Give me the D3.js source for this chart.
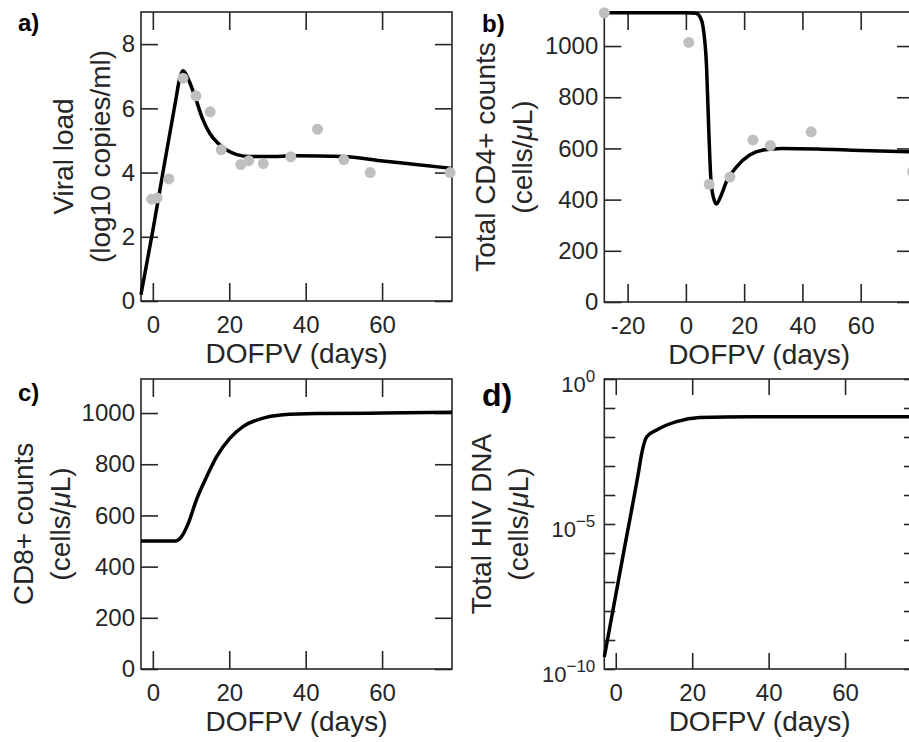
<!DOCTYPE html>
<html lang="en">

<head>
  <meta charset="UTF-8">
  <title>Acute HIV model fit</title>
  <style>
    body {
      margin: 0;
      background: #fff;
    }

    svg text {
      font-family: "Liberation Sans", Arial, sans-serif;
      fill: #262626;
    }
  </style>
</head>

<body>
  <div id="container"></div>
  <script src="https://cdn.jsdelivr.net/npm/d3@7"></script>
  <script>
    // a) viral load, log10 copies/ml
    const vlObsDays = [-0.3, 1.1, 4.2, 7.9, 11.3, 15.0, 17.9, 23.0, 25.1, 28.9, 36.1, 43.1, 50.0, 56.9, 77.8];
    const vlObs = [3.17, 3.21, 3.80, 6.94, 6.39, 5.89, 4.71, 4.25, 4.37, 4.28, 4.49, 5.35, 4.40, 4.00, 4.00];
    const vlDays = [-3.1, 0, 3, 6, 7, 7.9, 8.6, 9.5, 11, 13, 15, 17, 19.3, 22, 25.4, 30, 37.6, 49.9, 59.5, 68.2, 78.3];
    const vlModel = [0.2, 2.2, 4.25, 6.26, 6.92, 7.17, 7.08, 6.85, 6.38, 5.68, 5.2, 4.92, 4.7, 4.56, 4.5, 4.5, 4.52, 4.5, 4.37, 4.26, 4.13];

    // b) total CD4+ counts
    const cd4ObsDays = [-28, 1, 8, 15.1, 23, 29, 43, 77.8];
    const cd4Obs = [1130, 1014, 460, 488, 633, 611, 665, 509];
    const cd4Days = [-28, 0, 3.5, 4.8, 5.9, 7.1, 7.9, 8.6, 9.4, 10.5, 11.9, 13.9, 17.4, 21.9, 26.5, 33, 45, 60, 78.3];
    const cd4Model = [1130, 1130, 1128, 1115, 1075, 919, 659, 476, 411, 383, 411, 470, 528, 574, 594, 600, 598, 592, 587];

    // c) CD8+ counts
    const cd8Days = [-3.1, 5.5, 6.5, 7.5, 9.3, 11.4, 14.1, 16.7, 20.2, 23.7, 28, 34.1, 42.9, 60, 78.3];
    const cd8Model = [500, 500, 503, 517, 570, 661, 752, 830, 902, 948, 976, 993, 998, 1000, 1003];

    // d) total HIV DNA
    const hivDays = [-3, 2, 5.9, 6.8, 8.1, 10.7, 15.9, 22, 35, 50, 78.3];
    const hivModel = [2.6e-10, 9.5e-7, 5.6e-4, 2.75e-3, 0.0102, 0.0174, 0.0339, 0.0468, 0.0501, 0.0501, 0.0501];

    const dayTicks = [0, 20, 40, 60];
    const dayTicksB = [-20, 0, 20, 40, 60];
    const vlTicks = [0, 2, 4, 6, 8];
    const countTicks = [0, 200, 400, 600, 800, 1000];
    const dnaTicks = d3.range(-10, 1).map(e => Math.pow(10, e));
    const dnaLabelled = [0, -5, -10];

    const axisColor = '#262626';
    const dotColor = '#bfbfbf';

    const svg = d3.select('#container')
      .append('svg')
      .attr('width', 909)
      .attr('height', 742);

    const panels = [{
      tag: 'a)', tagX: 18, tagY: 31, tagSize: 24,
      left: 141, right: 452, top: 12, bottom: 301,
      xDomain: [-3.1, 78.3], yDomain: [0, 9],
      xTicks: dayTicks, yTicks: vlTicks,
      xTickLen: 18, yTickLen: 17,
      ylab: ['Viral load', '(log10 copies/ml)'], ylabX: [73, 110],
      days: vlDays, model: vlModel, obsDays: vlObsDays, obs: vlObs
    }, {
      tag: 'b)', tagX: 482, tagY: 32, tagSize: 24,
      left: 604.3, right: 914, top: 12, bottom: 302,
      xDomain: [-28, 78.3], yDomain: [0, 1133],
      xTicks: dayTicksB, yTicks: countTicks,
      xTickLen: 18, yTickLen: 17,
      ylab: ['Total CD4+ counts', 'cells'], ylabX: [495, 532],
      days: cd4Days, model: cd4Model, obsDays: cd4ObsDays, obs: cd4Obs
    }, {
      tag: 'c)', tagX: 18, tagY: 401, tagSize: 24,
      left: 141, right: 452, top: 379, bottom: 669,
      xDomain: [-3.1, 78.3], yDomain: [0, 1133],
      xTicks: dayTicks, yTicks: countTicks,
      xTickLen: 18, yTickLen: 17,
      ylab: ['CD8+ counts', 'cells'], ylabX: [33, 70],
      days: cd8Days, model: cd8Model
    }, {
      tag: 'd)', tagX: 482, tagY: 406, tagSize: 32,
      left: 604.3, right: 915, top: 379, bottom: 669,
      xDomain: [-3, 78.3], yDomain: [1e-10, 1], log: true,
      xTicks: dayTicks, yTicks: dnaTicks,
      xTickLen: 16, yTickLen: 11,
      ylab: ['Total HIV DNA', 'cells'], ylabX: [491, 528],
      days: hivDays, model: hivModel
    }];

    panels.forEach(drawPanel);

    function drawPanel(p) {
      const g = svg.append('g');
      const x = d3.scaleLinear().domain(p.xDomain).range([p.left, p.right]);
      const y = (p.log ? d3.scaleLog() : d3.scaleLinear()).domain(p.yDomain).range([p.bottom, p.top]);

      // ticks point inwards on all four sides
      const axes = [
        [d3.axisBottom(x).tickValues(p.xTicks).tickFormat(d => String(d)).tickPadding(15), 0, p.bottom, p.xTickLen],
        [d3.axisTop(x).tickValues(p.xTicks).tickFormat(''), 0, p.top, p.xTickLen],
        [d3.axisLeft(y).tickValues(p.yTicks).tickFormat(p.log ? '' : d => String(d)).tickPadding(6), p.left, 0, p.yTickLen],
        [d3.axisRight(y).tickValues(p.yTicks).tickFormat(''), p.right, 0, p.yTickLen]
      ];
      axes.forEach(([axis, tx, ty, len]) => {
        const a = g.append('g')
          .attr('transform', `translate(${tx},${ty})`)
          .attr('color', axisColor)
          .call(axis.tickSizeInner(-len).tickSizeOuter(0));
        a.select('.domain').remove();
        a.selectAll('line').attr('stroke-width', 1.6);
        a.selectAll('text').attr('font-size', 24).attr('font-family', null);
      });

      g.append('rect')
        .attr('x', p.left)
        .attr('y', p.top)
        .attr('width', p.right - p.left)
        .attr('height', p.bottom - p.top)
        .attr('fill', 'none')
        .attr('stroke', axisColor)
        .attr('stroke-width', 1.6);

      if (p.log) {
        dnaLabelled.forEach(e => {
          const t = g.append('text')
            .attr('x', p.left - 9)
            .attr('y', y(Math.pow(10, e)) + 13)
            .attr('text-anchor', 'end')
            .attr('font-size', 22);
          t.append('tspan').text('10');
          t.append('tspan')
            .attr('dy', -10)
            .attr('font-size', 17)
            .text(e === 0 ? '0' : '\u2212' + (-e));
        });
      }

      // model curve
      const line = d3.line()
        .x(d => x(d[0]))
        .y(d => y(d[1]))
        .curve(d3.curveMonotoneX);
      g.append('path')
        .datum(d3.zip(p.days, p.model))
        .attr('d', line)
        .attr('fill', 'none')
        .attr('stroke', '#000')
        .attr('stroke-width', 3.5)
        .attr('stroke-linejoin', 'round');

      // observed data
      if (p.obs) {
        g.selectAll('circle.obs')
          .data(d3.zip(p.obsDays, p.obs))
          .join('circle')
          .attr('class', 'obs')
          .attr('cx', d => x(d[0]))
          .attr('cy', d => y(d[1]))
          .attr('r', 5.5)
          .attr('fill', dotColor);
      }

      // labels
      const cy = (p.top + p.bottom) / 2;
      g.append('text')
        .attr('transform', `translate(${p.ylabX[0]},${cy}) rotate(-90)`)
        .attr('text-anchor', 'middle')
        .attr('font-size', 28)
        .text(p.ylab[0]);
      const l2 = g.append('text')
        .attr('transform', `translate(${p.ylabX[1]},${cy}) rotate(-90)`)
        .attr('text-anchor', 'middle')
        .attr('font-size', 28);
      if (p.ylab[1] === 'cells') {
        l2.append('tspan').text('(cells/');
        l2.append('tspan').attr('font-style', 'italic').text('\u03bc');
        l2.append('tspan').text('L)');
      } else {
        l2.text(p.ylab[1]);
      }

      g.append('text')
        .attr('x', (p.left + p.right) / 2)
        .attr('y', p.bottom + 62)
        .attr('text-anchor', 'middle')
        .attr('font-size', 28)
        .text('DOFPV (days)');

      g.append('text')
        .attr('x', p.tagX)
        .attr('y', p.tagY)
        .attr('font-size', p.tagSize)
        .attr('font-weight', 'bold')
        .style('fill', '#000')
        .text(p.tag);
    }
  </script>
</body>

</html>
